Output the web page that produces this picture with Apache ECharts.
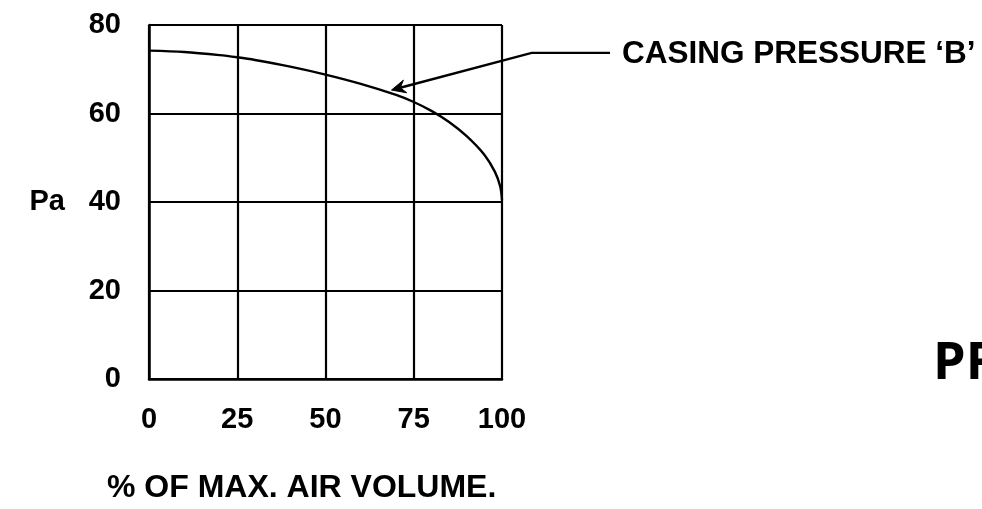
<!DOCTYPE html>
<html>
<head>
<meta charset="utf-8">
<script src="https://cdn.jsdelivr.net/npm/echarts@6/dist/echarts.min.js"></script>
<style>
  html, body { margin: 0; padding: 0; background: #ffffff; }
  #chart { width: 982px; height: 509px; }
</style>
</head>
<body>
<div id="chart"></div>
<script>
// ---- data ----
const xTicks = [0, 25, 50, 75, 100];
const yTicks = [0, 20, 40, 60, 80];
const airVolume = [0, 10, 20, 25, 30, 40, 50, 60, 70, 75, 80, 85, 90, 95, 98, 99.5, 100];
const casingPressure = [74.2, 73.9, 73.2, 72.7, 72.1, 70.6, 68.8, 66.7, 64.2, 62.6, 60.6, 58.1, 54.9, 50.7, 46.8, 43.5, 40.5];
const xAxisTitle = '% OF MAX. AIR VOLUME.';
const yAxisTitle = 'Pa';
const annotationText = 'CASING PRESSURE \u2018B\u2019';
const arrowTail = [130.6, 73.7];
const arrowElbow = [108.4, 73.7];
const arrowTip = [68.7, 65.3];
const cornerText = 'PR';

const seriesData = airVolume.map((x, i) => [x, casingPressure[i]]);
const FONT = '"Liberation Sans", Arial, Helvetica, sans-serif';

const chart = echarts.init(document.getElementById('chart'), null, { renderer: 'canvas' });
chart.setOption({
  animation: false,
  backgroundColor: '#ffffff',
  grid: { left: 149, right: 480, top: 25, bottom: 130, containLabel: false },
  xAxis: {
    type: 'value', min: xTicks[0], max: xTicks[xTicks.length - 1], interval: 25,
    axisLine: { show: true, lineStyle: { color: '#000', width: 2.5 } },
    axisTick: { show: false },
    splitLine: { show: true, lineStyle: { color: '#000', width: 2.2 } },
    axisLabel: { color: '#000', fontFamily: FONT, fontWeight: 'bold', fontSize: 29, margin: 26 }
  },
  yAxis: {
    type: 'value', min: yTicks[0], max: yTicks[yTicks.length - 1], interval: 20,
    name: yAxisTitle, nameLocation: 'middle', nameRotate: 0, nameGap: 84,
    nameTextStyle: { color: '#000', fontFamily: FONT, fontWeight: 'bold', fontSize: 29, align: 'right', verticalAlign: 'middle' },
    axisLine: { show: true, lineStyle: { color: '#000', width: 2.5 } },
    axisTick: { show: false },
    splitLine: { show: true, lineStyle: { color: '#000', width: 2.2 } },
    axisLabel: { color: '#000', fontFamily: FONT, fontWeight: 'bold', fontSize: 29, margin: 28 }
  },
  series: [{
    type: 'line',
    data: seriesData,
    smooth: 0.3,
    showSymbol: false,
    clip: false,
    lineStyle: { color: '#000', width: 2.4 }
  }]
});

// annotation arrow and texts, placed through the data scale
const toPx = (p) => chart.convertToPixel({ gridIndex: 0 }, p);
const tailPx = toPx(arrowTail);
const elbowPx = toPx(arrowElbow);
const tipPx = toPx(arrowTip);
const dx = tipPx[0] - elbowPx[0], dy = tipPx[1] - elbowPx[1];
const len = Math.hypot(dx, dy);
const ux = dx / len, uy = dy / len;
const nx = -uy, ny = ux;
const headLen = 14, headHalf = 6.5, notch = 9;
const head = [
  tipPx,
  [tipPx[0] - ux * headLen + nx * headHalf, tipPx[1] - uy * headLen + ny * headHalf],
  [tipPx[0] - ux * notch, tipPx[1] - uy * notch],
  [tipPx[0] - ux * headLen - nx * headHalf, tipPx[1] - uy * headLen - ny * headHalf]
];
const shaftEnd = [tipPx[0] - ux * notch, tipPx[1] - uy * notch];

chart.setOption({
  graphic: [
    {
      type: 'polyline', silent: true,
      shape: { points: [tailPx, elbowPx, shaftEnd] },
      style: { stroke: '#000', lineWidth: 2.4, fill: null }
    },
    {
      type: 'polygon', silent: true,
      shape: { points: head },
      style: { fill: '#000', stroke: '#000', lineWidth: 1 }
    },
    {
      type: 'text', left: tailPx[0] + 12, top: tailPx[1] - 15,
      style: { text: annotationText, fill: '#000', font: 'bold 31.5px ' + FONT }
    },
    {
      type: 'text', left: 107, top: 472,
      style: { text: xAxisTitle, fill: '#000', font: 'bold 32px ' + FONT }
    },
    {
      type: 'text', left: 933, top: 338,
      style: { text: cornerText, fill: '#000', font: 'bold 52px "Open Sans", "Noto Sans", sans-serif' }
    }
  ]
});
</script>
</body>
</html>
